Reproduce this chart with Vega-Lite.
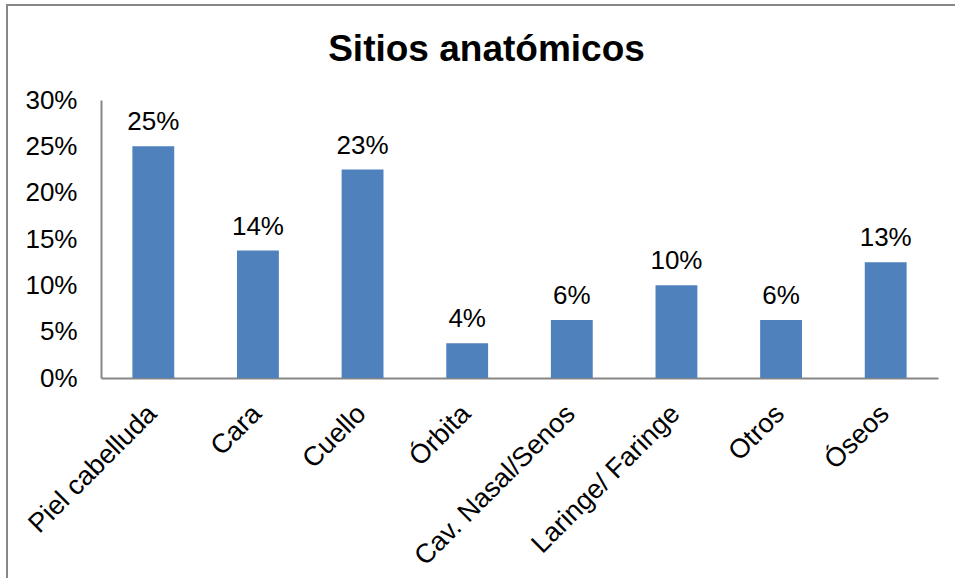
{
  "$schema": "https://vega.github.io/schema/vega-lite/v6.json",
  "autosize": "none",
  "width": 837,
  "height": 278,
  "padding": {"left": 101, "top": 100, "right": 17, "bottom": 200},
  "background": "white",
  "title": {
    "text": "Sitios anatómicos",
    "font": "Liberation Sans",
    "fontSize": 37,
    "fontWeight": "bold",
    "color": "black",
    "anchor": "middle",
    "frame": "group",
    "baseline": "alphabetic",
    "dx": -33,
    "offset": -94
  },
  "config": {
    "view": {"stroke": null},
    "font": "Liberation Sans"
  },
  "data": {
    "values": [
      {"sitio": "Piel cabelluda", "pct": 0.25},
      {"sitio": "Cara", "pct": 0.1375},
      {"sitio": "Cuello", "pct": 0.225},
      {"sitio": "Órbita", "pct": 0.0375},
      {"sitio": "Cav. Nasal/Senos", "pct": 0.0625},
      {"sitio": "Laringe/ Faringe", "pct": 0.1},
      {"sitio": "Otros", "pct": 0.0625},
      {"sitio": "Óseos", "pct": 0.125}
    ]
  },
  "encoding": {
    "x": {
      "field": "sitio",
      "type": "nominal",
      "sort": null,
      "scale": {"paddingInner": 0.6, "paddingOuter": 0.3},
      "axis": {
        "title": null,
        "labelAngle": -45,
        "labelAlign": "right",
        "labelBaseline": "top",
        "labelFont": "Liberation Sans",
        "labelFontSize": 27,
        "labelColor": "black",
        "labelPadding": 22,
        "labelOffset": -10,
        "labelLimit": 400,
        "ticks": false,
        "domainColor": "#868686",
        "domainWidth": 2
      }
    },
    "y": {
      "field": "pct",
      "type": "quantitative",
      "scale": {"domain": [0, 0.3], "nice": false},
      "axis": {
        "title": null,
        "format": ".0%",
        "values": [0, 0.05, 0.1, 0.15, 0.2, 0.25, 0.3],
        "grid": false,
        "ticks": false,
        "labelFont": "Liberation Sans",
        "labelFontSize": 26,
        "labelColor": "black",
        "labelPadding": 24,
        "domainColor": "#868686",
        "domainWidth": 2
      }
    }
  },
  "layer": [
    {
      "mark": {"type": "bar", "color": "#4F81BD"}
    },
    {
      "mark": {
        "type": "text",
        "baseline": "alphabetic",
        "dy": -16,
        "font": "Liberation Sans",
        "fontSize": 26,
        "color": "black"
      },
      "encoding": {
        "text": {"field": "pct", "type": "quantitative", "format": ".0%"}
      }
    },
    {
      "data": {"values": [{"marco": "borde"}]},
      "mark": {
        "type": "rect",
        "fill": null,
        "stroke": "#878787",
        "strokeWidth": 2,
        "clip": false,
        "xOffset": -94,
        "yOffset": -95,
        "x2Offset": 60,
        "y2Offset": 300
      },
      "encoding": {
        "x": {"value": 0},
        "y": {"value": 0},
        "x2": {"value": "width"},
        "y2": {"value": "height"}
      }
    }
  ]
}
